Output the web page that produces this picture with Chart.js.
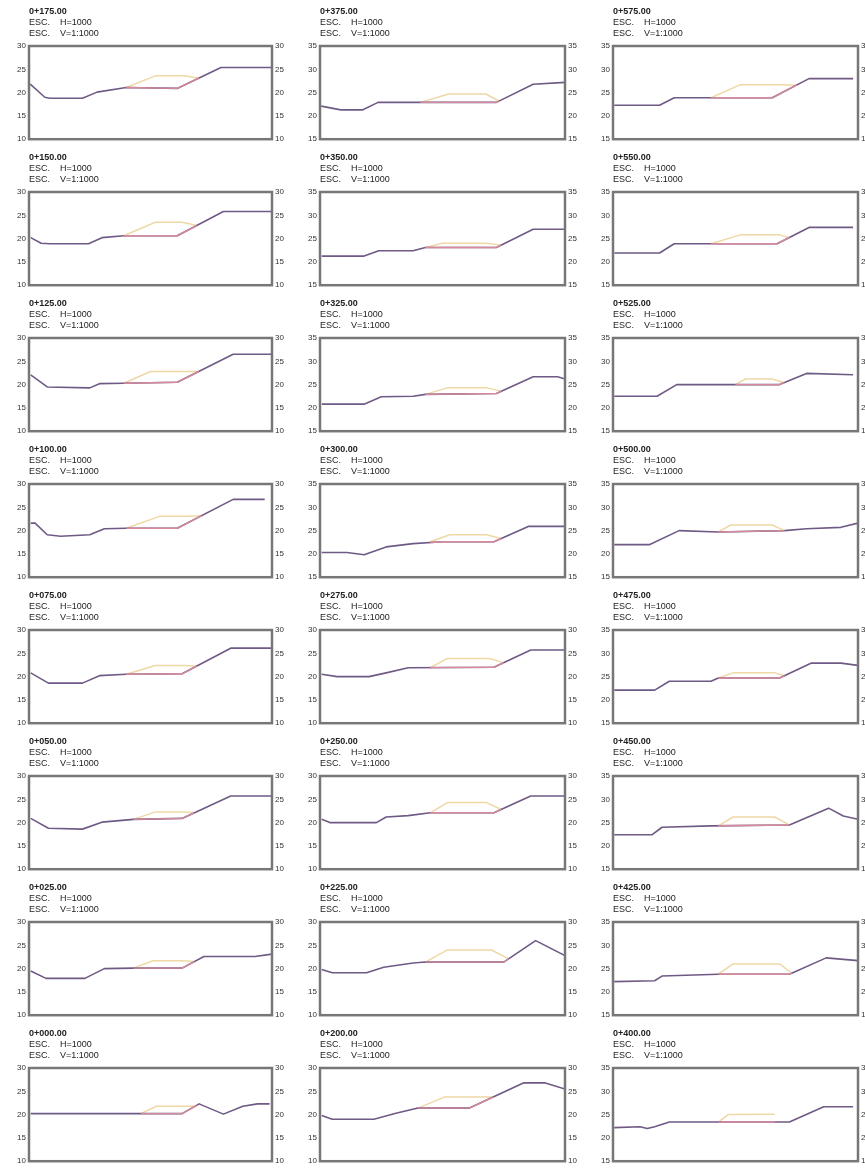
<!DOCTYPE html>
<html>
<head>
<meta charset="utf-8">
<script src="https://cdn.jsdelivr.net/npm/chart.js@4.4.0/dist/chart.umd.min.js"></script>
<style>
  html, body { margin: 0; padding: 0; background: #ffffff; }
  body { width: 865px; height: 1169px; position: relative; overflow: hidden; }
  canvas { position: absolute; }
</style>
</head>
<body>
<script>
// Cross sections, every 25 m. Offsets (x) are given as % of the section width,
// elevations (y) in metres.

const stations = [
  '0+175.00', '0+150.00', '0+125.00', '0+100.00', '0+075.00', '0+050.00', '0+025.00', '0+000.00',
  '0+375.00', '0+350.00', '0+325.00', '0+300.00', '0+275.00', '0+250.00', '0+225.00', '0+200.00',
  '0+575.00', '0+550.00', '0+525.00', '0+500.00', '0+475.00', '0+450.00', '0+425.00', '0+400.00'
];

const scaleH = 'H=1000';
const scaleV = 'V=1:1000';

// lowest elevation of each section's vertical axis (range is always 20 m, ticks every 5 m)
const yMin = [
  10, 10, 10, 10, 10, 10, 10, 10,
  15, 15, 15, 15, 10, 10, 10, 10,
  15, 15, 15, 15, 15, 15, 15, 15
];
const yTicks = 5;
const ySpan = 20;

// ground line and upper berm line of each section
const terreno175 = [[0.5,21.8],[6.5,19.0],[8.5,18.8],[22,18.8],[28,20.1],[40,21.1],[61,20.9],[79,25.4],[100,25.4]];
const berma175   = [[40,21.1],[52,23.6],[64,23.6],[70,23.1]];
const terreno150 = [[0.7,20.2],[5,19.0],[8.6,18.9],[24.5,18.9],[30,20.2],[39,20.6],[61,20.6],[80,25.8],[100,25.8]];
const berma150   = [[39,20.6],[52,23.5],[63,23.5],[69,22.8]];
const terreno125 = [[0.7,22.1],[7.5,19.5],[25,19.3],[29,20.2],[39,20.3],[61,20.5],[84,26.5],[100,26.5]];
const berma125   = [[39,20.3],[50,22.8],[63,22.8],[70,22.8]];
const terreno100 = [[0.7,21.6],[2.5,21.6],[7.5,19.1],[13,18.8],[25,19.1],[31,20.4],[40,20.5],[61,20.5],[84,26.7],[97,26.7]];
const berma100   = [[40,20.5],[54,23.1],[65,23.1],[71,23.2]];
const terreno075 = [[0.7,20.8],[8,18.6],[22,18.6],[29,20.2],[40,20.5],[63,20.6],[83,26.1],[100,26.1]];
const berma075   = [[40,20.5],[52,22.4],[64,22.4],[69,22.2]];
const terreno050 = [[0.7,20.9],[8,18.8],[22,18.6],[30,20.1],[43,20.7],[63,20.9],[83,25.7],[100,25.7]];
const berma050   = [[43,20.7],[52,22.3],[64,22.3],[68,22.1]];
const terreno025 = [[0.7,19.5],[7,17.9],[23,17.9],[31,20.0],[43,20.1],[63,20.1],[72,22.6],[93,22.6],[100,23.1]];
const berma025   = [[43,20.1],[51,21.7],[63,21.7],[68,21.5]];
const terreno000 = [[0.7,20.2],[46,20.2],[63,20.2],[70,22.3],[80,20.1],[88,21.8],[94,22.3],[99,22.3]];
const berma000   = [[46,20.2],[52.5,21.8],[69,21.8]];

const terreno375 = [[0.5,22.1],[8.5,21.3],[17.5,21.3],[23.7,22.9],[72,22.9],[87,26.8],[100,27.2]];
const berma375   = [[41,22.9],[52.5,24.7],[67.7,24.7],[73,23.2]];
const terreno350 = [[0.7,21.25],[18,21.25],[24,22.4],[38,22.4],[43,23.1],[72,23.1],[87,27.0],[100,27.0]];
const berma350   = [[43,23.1],[50,24.0],[68,24.0],[74,23.6]];
const terreno325 = [[0.7,20.8],[18,20.8],[25,22.4],[38,22.5],[43,22.9],[72,23.1],[87,26.7],[97,26.7],[100,26.2]];
const berma325   = [[43,22.9],[52,24.3],[68,24.3],[74,23.6]];
const terreno300 = [[0.7,20.3],[11,20.3],[18,19.8],[27,21.5],[38,22.2],[50,22.6],[71,22.6],[85,25.9],[100,25.9]];
const berma300   = [[45,22.6],[53,24.1],[68,24.1],[74,23.3]];
const terreno275 = [[0.7,20.5],[7,20.0],[20,20.0],[27,20.8],[36,21.9],[71,22.0],[86,25.7],[100,25.7]];
const berma275   = [[45,21.9],[52,23.9],[69,23.9],[75,23.0]];
const terreno250 = [[0.7,20.7],[4,20.0],[23,20.0],[27,21.2],[36,21.5],[45,22.1],[71,22.1],[86,25.7],[100,25.7]];
const berma250   = [[45,22.1],[52,24.3],[68,24.3],[74,22.8]];
const terreno225 = [[0.7,19.8],[5,19.1],[19,19.1],[26,20.3],[38,21.2],[43,21.4],[75,21.4],[88,26.0],[100,22.8]];
const berma225   = [[43,21.4],[52,24.0],[70,24.0],[77,22.1]];
const terreno200 = [[0.7,19.8],[5,19.0],[22,19.0],[31,20.3],[40,21.4],[61,21.4],[83,26.8],[92,26.8],[100,25.5]];
const berma200   = [[40,21.4],[51,23.8],[62,23.8],[70.8,23.8]];

const terreno575 = [[0.5,22.3],[19,22.3],[25,23.9],[65,23.9],[80,28.0],[98,28.0]];
const berma575   = [[40,23.9],[52,26.7],[68,26.7],[75,26.6]];
const terreno550 = [[0.5,21.9],[19,21.9],[25,23.9],[67,23.9],[80,27.4],[98,27.4]];
const berma550   = [[40,23.9],[52,25.8],[68,25.8],[72,25.2]];
const terreno525 = [[0.5,22.5],[18,22.5],[26,25.0],[68,25.0],[79,27.4],[98,27.1]];
const berma525   = [[50,25.0],[54,26.2],[65,26.2],[70,25.4]];
const terreno500 = [[0.5,22.0],[15,22.0],[27,25.0],[43,24.7],[70,25.0],[79,25.4],[93,25.7],[100,26.6]];
const berma500   = [[43,24.7],[48,26.2],[65,26.2],[70,25.0]];
const terreno475 = [[0.5,22.1],[17,22.1],[23,24.0],[40,24.0],[43,24.7],[68,24.7],[81,27.9],[93,27.9],[100,27.4]];
const berma475   = [[43,24.7],[49,25.8],[66,25.8],[70,25.2]];
const terreno450 = [[0.5,22.4],[16,22.4],[20,24.0],[40,24.3],[72,24.5],[88,28.1],[94,26.4],[100,25.7]];
const berma450   = [[43,24.3],[49,26.2],[66,26.2],[72,24.5]];
const terreno425 = [[0.5,22.2],[17,22.4],[20,23.4],[43,23.8],[72,23.8],[87,27.3],[100,26.7]];
const berma425   = [[43,23.8],[49,26.0],[68,26.0],[73,24.0]];
const terreno400 = [[0.5,22.2],[11,22.4],[14,22.0],[17,22.4],[23,23.4],[72,23.4],[86,26.7],[98,26.7]];
const berma400   = [[43,23.4],[47,25.0],[66,25.1]];

const terrenos = [
  terreno175, terreno150, terreno125, terreno100, terreno075, terreno050, terreno025, terreno000,
  terreno375, terreno350, terreno325, terreno300, terreno275, terreno250, terreno225, terreno200,
  terreno575, terreno550, terreno525, terreno500, terreno475, terreno450, terreno425, terreno400
];
const bermas = [
  berma175, berma150, berma125, berma100, berma075, berma050, berma025, berma000,
  berma375, berma350, berma325, berma300, berma275, berma250, berma225, berma200,
  berma575, berma550, berma525, berma500, berma475, berma450, berma425, berma400
];

// sheet layout: 3 columns x 8 rows of section frames
const colLeft = [29, 320, 613];
const colWidth = [243, 245, 245];
const rowTop0 = 46, rowPitch = 146, boxH = 95;
const padL = 28, padR = 22, padTop = 44, padBottom = 6;

const FONT = "'Liberation Sans', Arial, sans-serif";

// value of a polyline at offset x
function valueAt(line, x) {
  for (let i = 0; i < line.length - 1; i++) {
    const [x0, y0] = line[i], [x1, y1] = line[i + 1];
    if (x >= x0 && x <= x1) return y0 + (y1 - y0) * (x - x0) / (x1 - x0);
  }
  return line[line.length - 1][1];
}

// part of the ground line lying under the berm
function underBerm(line, berm) {
  const a = berm[0][0], b = berm[berm.length - 1][0];
  const seg = [[a, valueAt(line, a)]];
  line.forEach(p => { if (p[0] > a && p[0] < b) seg.push(p); });
  seg.push([b, valueAt(line, b)]);
  return seg;
}

const framePlugin = {
  id: 'sectionFrame',
  afterDatasetsDraw(chart) {
    const { ctx, chartArea: a } = chart;
    ctx.save();
    ctx.strokeStyle = '#777777';
    ctx.lineWidth = 2.5;
    ctx.strokeRect(a.left, a.top, a.right - a.left, a.bottom - a.top);
    ctx.restore();
  }
};

const headerPlugin = {
  id: 'sectionHeader',
  afterDraw(chart, args, opts) {
    const { ctx, chartArea: a } = chart;
    ctx.save();
    ctx.fillStyle = '#222222';
    ctx.textBaseline = 'middle';
    ctx.textAlign = 'left';
    ctx.font = 'bold 9px ' + FONT;
    ctx.fillText(opts.station, a.left, a.top - 34);
    ctx.font = '9px ' + FONT;
    ctx.fillText('ESC.', a.left, a.top - 23);
    ctx.fillText(opts.h, a.left + 31, a.top - 23);
    ctx.fillText('ESC.', a.left, a.top - 12);
    ctx.fillText(opts.v, a.left + 31, a.top - 12);
    ctx.restore();
  }
};

function axis(position, min, width) {
  return {
    position: position,
    min: min,
    max: min + ySpan,
    grid: { display: false, drawTicks: false },
    border: { display: false },
    ticks: {
      stepSize: yTicks,
      padding: 3,
      color: '#333333',
      font: { size: 8, family: FONT }
    },
    afterFit(scale) { scale.width = width; }
  };
}

stations.forEach((st, i) => {
  const col = Math.floor(i / 8), row = i % 8;
  const w = colWidth[col];
  const cv = document.createElement('canvas');
  const cw = w + padL + padR, ch = padTop + boxH + padBottom;
  cv.width = cw; cv.height = ch;
  cv.style.width = cw + 'px'; cv.style.height = ch + 'px';
  cv.style.left = (colLeft[col] - padL) + 'px';
  cv.style.top = (rowTop0 + row * rowPitch - padTop) + 'px';
  document.body.appendChild(cv);

  const ground = terrenos[i], berm = bermas[i];

  new Chart(cv, {
    type: 'line',
    data: {
      datasets: [
        { label: 'berma', data: berm, borderColor: '#eed8a6', borderWidth: 1.5, pointRadius: 0, order: 3 },
        { label: 'terreno', data: ground, borderColor: '#6f5a86', borderWidth: 1.6, pointRadius: 0, order: 2 },
        { label: 'corte', data: underBerm(ground, berm), borderColor: '#d78a9c', borderWidth: 1.4, pointRadius: 0, order: 1 }
      ]
    },
    options: {
      responsive: false,
      animation: false,
      events: [],
      layout: { padding: { top: padTop, bottom: padBottom, left: 0, right: 0 } },
      elements: { line: { tension: 0, borderJoinStyle: 'round' } },
      scales: {
        x: { type: 'linear', min: 0, max: 100, display: false },
        y: axis('left', yMin[i], padL),
        y2: axis('right', yMin[i], padR)
      },
      plugins: {
        legend: { display: false },
        tooltip: { enabled: false },
        sectionHeader: { station: st, h: scaleH, v: scaleV }
      }
    },
    plugins: [framePlugin, headerPlugin]
  });
});
</script>
</body>
</html>
